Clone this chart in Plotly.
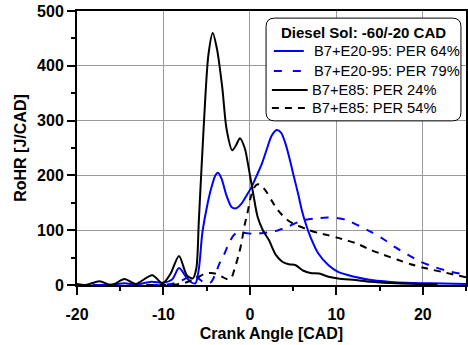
import plotly.graph_objects as go

# B7+E20-95: PER 64% (blue solid)
x_b64 = [-18.2, -16, -14.5, -13, -11.4, -10, -9, -8.2, -7.4, -6.8, -6.3, -5.9, -5.5, -5.0, -4.5, -4.0, -3.7, -3.3, -2.7, -2.1, -1.6, -1.0, -0.4, 0.2, 0.8, 1.4, 2.0, 2.5, 3.1, 3.6, 4.1, 4.6, 5.1, 5.6, 6.0, 6.5, 7.0, 7.9, 9.1, 10.2, 12.1, 14, 16, 18, 21, 25]
y_b64 = [0, 1, 3, 1, 6, 4, 10, 31, 15, 5, 3, 30, 95, 140, 175, 200, 205, 195, 163, 142, 140, 148, 163, 179, 200, 222, 250, 272, 283, 278, 259, 230, 197, 165, 137, 110, 88, 58, 36, 24, 15, 9, 6, 4, 3, 2]

# B7+E20-95: PER 79% (blue dashed)
x_b79 = [-11.5, -9.5, -8.5, -7.8, -7.0, -6.4, -5.8, -5.1, -4.5, -4.0, -3.5, -3.0, -2.4, -1.8, -1.3, -0.5, 0.5, 1.5, 2.5, 3.3, 4.5, 5.6, 6.8, 7.9, 9.0, 10.2, 11.3, 12.5, 14.0, 15.5, 16.8, 18.3, 19.8, 21.5, 23.0, 25]
y_b79 = [0, 1, 4, 9, 15, 18, 10, 3, 5, 20, 40, 55, 77, 92, 96, 95, 93, 95, 97, 100, 107, 115, 120, 122, 123, 122, 118, 109, 97, 83, 69, 55, 42, 32, 25, 19]

# B7+E85: PER 24% (black solid)
x_k24 = [-20, -19, -17.4, -16, -14.5, -13.2, -11.3, -10.1, -9.2, -8.2, -7.3, -6.6, -6.2, -5.9, -5.3, -4.8, -4.3, -3.8, -3.2, -2.7, -2.05, -1.6, -1.15, -0.6, -0.1, 0.4, 0.9, 1.5, 2.2, 3.0, 3.8, 4.5, 5.3, 6.2, 7.0, 8.0, 9.1, 10.2, 12.2, 14, 17, 21.7]
y_k24 = [2, 0, 7, 0, 11, 2, 18, 3, 20, 53, 18, 12, 30, 119, 301, 420, 460, 430, 361, 285, 246, 255, 268, 250, 210, 165, 124, 100, 82, 55, 42, 38, 36, 26, 22, 21, 15, 12, 9, 6, 3, 1]

# B7+E85: PER 54% (black dashed)
x_k54 = [-12, -10, -8.5, -7.5, -6.7, -6.0, -5.2, -4.5, -3.8, -3.2, -2.7, -2.2, -1.8, -1.3, -1.0, -0.6, -0.3, 0.1, 0.5, 0.9, 1.4, 2.0, 2.6, 3.0, 3.6, 4.3, 5.0, 5.6, 6.7, 7.9, 9.0, 10.2, 11.3, 12.3, 14.0, 15.5, 17.1, 18.6, 20.2, 22.5, 25]
y_k54 = [0, 0, 1, 4, 9, 14, 21, 22, 20, 15, 11, 12, 28, 55, 75, 110, 130, 160, 178, 184, 180, 168, 152, 142, 130, 119, 112, 108, 101, 95, 91, 86, 81, 76, 64, 55, 46, 38, 31, 23, 14]

names = ["B7+E20-95: PER 64%", "B7+E20-95: PER 79%", "B7+E85: PER 24%", "B7+E85: PER 54%"]
legend_title = "Diesel Sol: -60/-20 CAD"
x_ticks = [-20, -10, 0, 10, 20]
x_ticktext = ["-20", "-10", "0", "10", "20"]
y_ticks = [0, 100, 200, 300, 400, 500]

FONT = "Liberation Sans, Arial, sans-serif"

fig = go.Figure()
series = [(x_b64, y_b64, "#0000FF", "solid"),
          (x_b79, y_b79, "#0000FF", "8px,8px"),
          (x_k24, y_k24, "#000000", "solid"),
          (x_k54, y_k54, "#000000", "7px,6px")]
for (xs, ys, c, d), n in zip(series, names):
    fig.add_trace(go.Scatter(x=xs, y=ys, mode="lines", name=n, showlegend=False,
                             line=dict(color=c, width=2, dash=d, shape="spline", smoothing=0.8)))

# rounded legend box (paper coords)
x0, x1, y0, y1 = 0.486, 0.987, 0.599, 0.974
rx, ry = 0.022, 0.031
path = (f"M {x0+rx},{y1} L {x1-rx},{y1} Q {x1},{y1} {x1},{y1-ry} "
        f"L {x1},{y0+ry} Q {x1},{y0} {x1-rx},{y0} L {x0+rx},{y0} "
        f"Q {x0},{y0} {x0},{y0+ry} L {x0},{y1-ry} Q {x0},{y1} {x0+rx},{y1} Z")
fig.add_shape(type="path", path=path, xref="paper", yref="paper",
              line=dict(color="black", width=1), fillcolor="white", layer="above")

fig.add_annotation(text=legend_title, xref="paper", yref="paper", x=0.737, y=0.923,
                   xanchor="center", yanchor="middle", showarrow=False,
                   font=dict(family=FONT, size=15, color="black", weight="bold"))
row_y = [0.854, 0.781, 0.712, 0.646]
sample_x = [(0.506, 0.583, 0.604), (0.506, 0.583, 0.604), (0.501, 0.593, 0.599), (0.501, 0.593, 0.599)]
legend_dash = ["solid", "8px,11px", "solid", "7px,6px"]
for (xs, ys, c, d), n, ry_, (sx0, sx1, tx), ld in zip(series, names, row_y, sample_x, legend_dash):
    fig.add_shape(type="line", xref="paper", yref="paper", x0=sx0, x1=sx1, y0=ry_, y1=ry_,
                  line=dict(color=c, width=2, dash=ld), layer="above")
    fig.add_annotation(text=n, xref="paper", yref="paper", x=tx, y=ry_,
                       xanchor="left", yanchor="middle", showarrow=False,
                       font=dict(family=FONT, size=14.7, color="black"))

axis_common = dict(showline=True, linecolor="black", linewidth=2, mirror=True,
                   ticks="outside", ticklen=8, tickwidth=2, tickcolor="black",
                   showgrid=True, gridcolor="#9a9a9a", gridwidth=1, zeroline=False,
                   tickfont=dict(family=FONT, size=16, color="black", weight="bold"),
                   title_font=dict(family=FONT, size=16, color="black", weight="bold"))

fig.update_xaxes(range=[-20, 25], tickvals=x_ticks, ticktext=x_ticktext,
                 title_text="Crank Angle [CAD]", title_standoff=6, ticklabelstandoff=6,
                 minor=dict(dtick=5, ticks="outside", ticklen=4, tickwidth=2, tickcolor="black", showgrid=False),
                 **axis_common)
fig.update_yaxes(range=[0, 500], tickvals=y_ticks, title_text="RoHR [J/CAD]",
                 title_standoff=6,
                 minor=dict(dtick=50, ticks="outside", ticklen=4, tickwidth=2, tickcolor="black", showgrid=False),
                 **axis_common)

fig.update_layout(
    width=468, height=345,
    margin=dict(l=77, r=0, t=11, b=60),
    paper_bgcolor="white", plot_bgcolor="white",
    font=dict(family=FONT, color="black"),
    showlegend=False,
)

fig.write_html("out.html")
